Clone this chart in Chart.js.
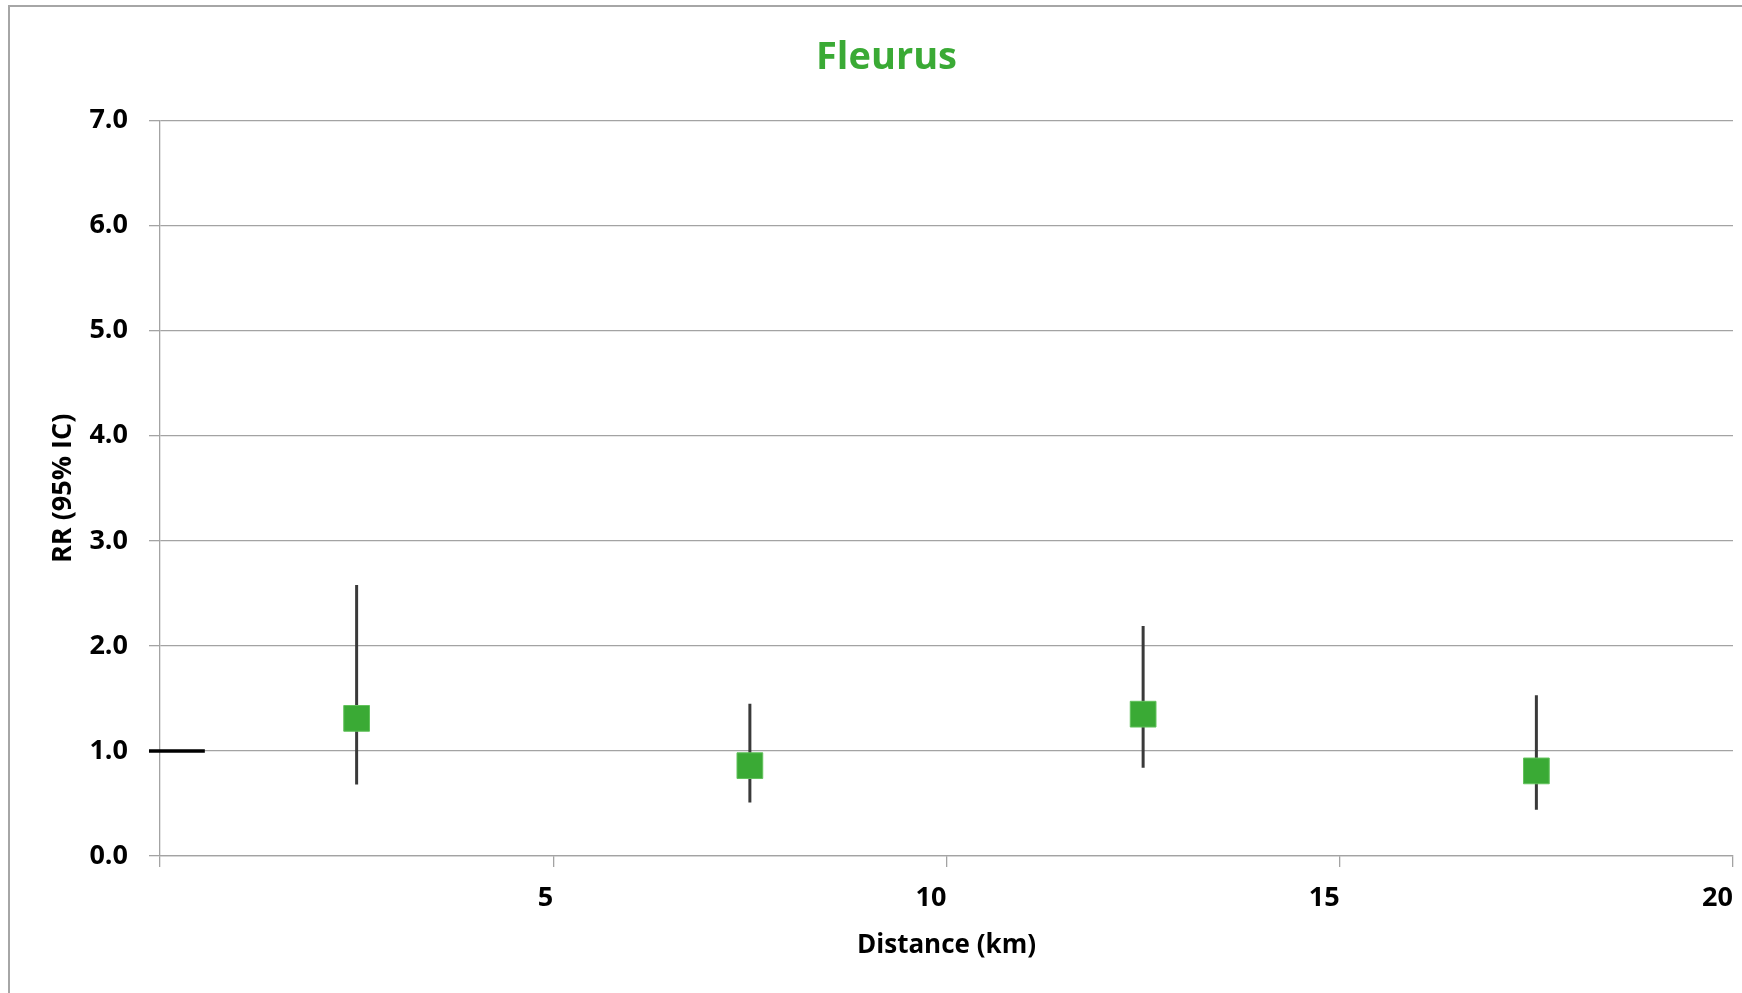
<!DOCTYPE html>
<html>
<head>
<meta charset="utf-8">
<script src="https://cdn.jsdelivr.net/npm/chart.js@4"></script>
<style>
  html, body { margin: 0; padding: 0; background: #ffffff; }
  #wrap { position: relative; width: 1742px; height: 993px; overflow: hidden; background: #ffffff; }
  #frame { position: absolute; left: 8px; top: 5px; width: 1800px; height: 1100px;
           border-left: 2px solid #a6a6a6; border-top: 2px solid #a6a6a6; }
  #c { position: absolute; left: 0; top: 0; }
</style>
</head>
<body>
<div id="wrap">
  <div id="frame"></div>
  <canvas id="c" width="1742" height="993"></canvas>
</div>
<script>
// Relative risk by distance band (km), with 95% confidence interval
const distances = [2.5, 7.5, 12.5, 17.5];
const rr        = [1.31, 0.86, 1.35, 0.81];
const ciLow     = [0.68, 0.51, 0.84, 0.44];
const ciHigh    = [2.58, 1.45, 2.19, 1.53];

// Reference marker at RR = 1
const refX = [-0.14, 0.57];
const refY = 1.0;

// Axis ranges and tick steps
const xMin = 0, xMax = 20, xStep = 5;
const yMin = 0, yMax = 7, yStep = 1;

const GREEN = '#3aaa35';
const GRID = '#a3a3a3';
const FONT = '"Open Sans", "DejaVu Sans", sans-serif';

// Vertical CI segments: low -> high for each band, separated by gaps
const ciSegments = [];
distances.forEach((d, i) => {
  ciSegments.push({ x: d, y: ciLow[i] });
  ciSegments.push({ x: d, y: ciHigh[i] });
  ciSegments.push({ x: d, y: null });
});

const rrPoints = distances.map((d, i) => ({ x: d, y: rr[i] }));
const refLine = refX.map(x => ({ x: x, y: refY }));

new Chart(document.getElementById('c'), {
  type: 'line',
  data: {
    datasets: [
      {
        label: 'RR',
        data: rrPoints,
        showLine: false,
        pointStyle: 'rect',
        pointRadius: 18.2,
        pointHoverRadius: 18.2,
        pointBackgroundColor: GREEN,
        pointBorderColor: '#62c25c',
        pointBorderWidth: 1,
        order: 1
      },
      {
        label: 'IC 95%',
        data: ciSegments,
        borderColor: '#3a3a3a',
        borderWidth: 3,
        pointRadius: 0,
        spanGaps: false,
        order: 2
      },
      {
        label: 'Référence',
        data: refLine,
        borderColor: '#000000',
        borderWidth: 3.4,
        pointRadius: 0,
        clip: false,
        order: 3
      }
    ]
  },
  options: {
    responsive: false,
    animation: false,
    events: [],
    layout: { autoPadding: false, padding: { left: 40, right: 9, top: 0, bottom: 0 } },
    plugins: {
      legend: { display: false },
      tooltip: { enabled: false },
      title: {
        display: true,
        text: 'Fleurus',
        color: GREEN,
        font: { family: FONT, size: 38, weight: 'bold', lineHeight: 1.2 },
        padding: { top: 35, bottom: 40 }
      }
    },
    scales: {
      x: {
        type: 'linear',
        min: xMin,
        max: xMax,
        afterFit: s => {
          s.height = 137;
          s.paddingLeft = 0;
          s.paddingRight = 0;
        },
        ticks: {
          stepSize: xStep,
          align: 'end',
          padding: 15,
          color: '#000000',
          font: { family: FONT, size: 27, weight: 'bold' },
          callback: v => (v === 0 ? '' : String(v))
        },
        grid: { drawOnChartArea: false, drawTicks: true, tickLength: 11, color: GRID, lineWidth: 1.3 },
        border: { display: true, color: GRID, width: 1.3 },
        title: {
          display: true,
          text: 'Distance (km)',
          color: '#000000',
          font: { family: FONT, size: 26, weight: 'bold', lineHeight: 1.2 },
          padding: { top: 0, bottom: 32 }
        }
      },
      y: {
        type: 'linear',
        min: yMin,
        max: yMax,
        afterFit: s => { s.width = 120; },
        ticks: {
          stepSize: yStep,
          padding: 21,
          color: '#000000',
          font: { family: FONT, size: 27, weight: 'bold' },
          callback: v => Number(v).toFixed(1)
        },
        grid: { drawTicks: true, tickLength: 11, color: GRID, lineWidth: 1.3 },
        border: { display: true, color: GRID, width: 1.3 },
        title: {
          display: true,
          text: 'RR (95% IC)',
          color: '#000000',
          font: { family: FONT, size: 27, weight: 'bold', lineHeight: 1.2 },
          padding: { top: 7, bottom: 0 }
        }
      }
    }
  }
});
</script>
</body>
</html>
